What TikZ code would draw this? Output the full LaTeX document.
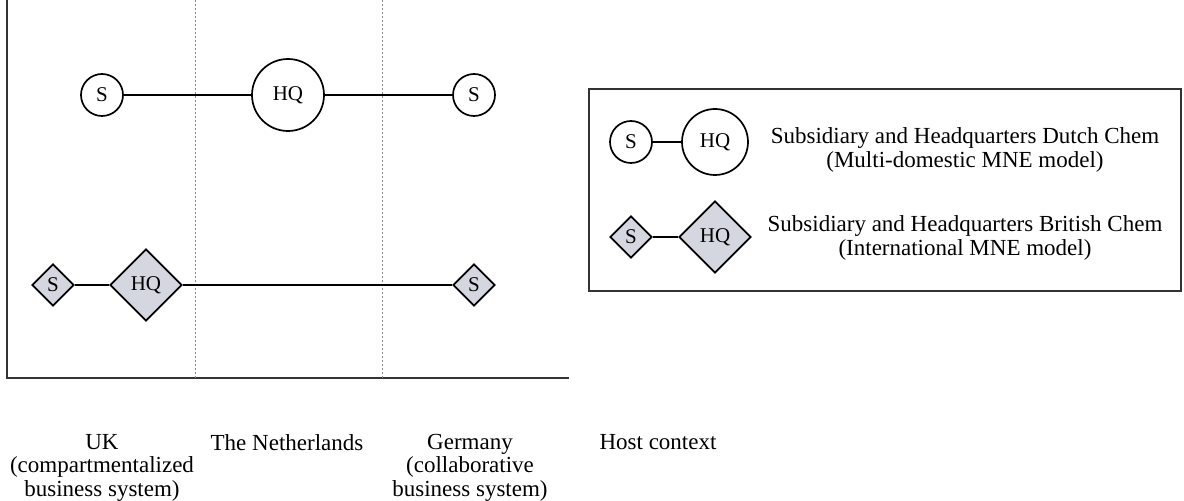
\documentclass[tikz,border=0pt]{standalone}
\usepackage{fontspec}
\setmainfont{Liberation Serif}
\usepackage{xcolor}
\usetikzlibrary{shapes.geometric,positioning}
\definecolor{dfill}{HTML}{D4D7E0}
\definecolor{gridc}{HTML}{8A8A8A}

\tikzset{
  sub/.style={circle,draw,line width=0.85pt,inner sep=0pt,minimum size=21pt,font=\fontsize{10.5}{11}\selectfont},
  hq/.style={sub,minimum size=36pt},
  dsub/.style={diamond,draw,line width=0.85pt,fill=dfill,inner sep=0pt,minimum size=21pt,font=\fontsize{10.5}{11}\selectfont},
  dhq/.style={dsub,minimum size=36pt},
  link/.style={line width=0.85pt},
  lbl/.style={align=center,font=\fontsize{11.5}{11.8}\selectfont}
}

\begin{document}
\begin{tikzpicture}[x=0.5pt,y=-0.5pt]
\useasboundingbox (0,0) rectangle (1184,501);

% axes and country borders
\draw[line width=1pt,black!80] (7,0) -- (7,378) -- (569,378);
\draw[gridc,line width=0.5pt,dash pattern=on 1.2pt off 0.8pt] (195,0) -- (195,378);
\draw[gridc,line width=0.5pt,dash pattern=on 1.2pt off 0.8pt] (382,0) -- (382,378);

% Dutch Chem
\node[sub] (s1) at (102,95) {S};
\node[hq] (hq1) at (288,95) {HQ};
\node[sub] (s2) at (474,95) {S};
\draw[link] (s1) -- (hq1) -- (s2);

% British Chem
\node[dsub] (ds1) at (53,285) {S};
\node[dhq] (dhq1) at (146,285) {HQ};
\node[dsub] (ds2) at (474,285) {S};
\draw[link] (ds1) -- (dhq1) -- (ds2);

% legend
\draw[line width=1pt,black!80] (589,89) rectangle (1181,291);
\node[sub] (ls) at (631,142) {S};
\node[hq,minimum size=33pt] (lhq) at (715,142) {HQ};
\draw[link] (ls) -- (lhq);
\node[lbl] (ltxt1) at (965,150) {Subsidiary and Headquarters Dutch Chem\\(Multi-domestic MNE model)};
\node[dsub] (lds) at (631,237) {S};
\node[dhq] (ldhq) at (715,237) {HQ};
\draw[link] (lds) -- (ldhq);
\node[lbl] (ltxt2) at (965,238) {Subsidiary and Headquarters British Chem\\(International MNE model)};

% host contexts
\node[lbl,anchor=north] (uk) at (102,427) {UK\\(compartmentalized\\business system)};
\node[lbl,anchor=north] (nl) at (287,427) {The Netherlands};
\node[lbl,anchor=north] (de) at (470,427) {Germany\\(collaborative\\business system)};
\node[lbl,anchor=north] (host) at (658,427) {Host context};
\end{tikzpicture}
\end{document}
